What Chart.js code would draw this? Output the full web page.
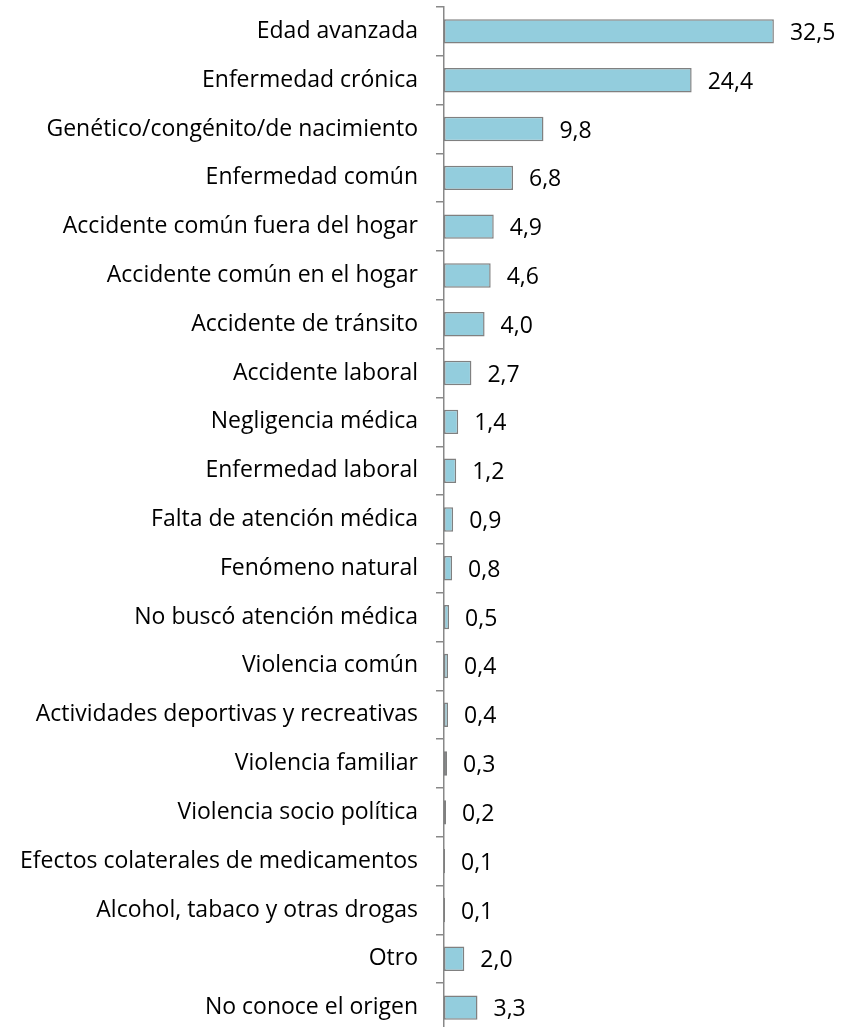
<!DOCTYPE html>
<html>
<head>
<meta charset="utf-8">
<script src="https://cdn.jsdelivr.net/npm/chart.js@4/dist/chart.umd.min.js"></script>
<style>
  html, body { margin:0; padding:0; background:#fff; overflow:hidden; }
  #wrap { width:855px; height:1040px; }
</style>
</head>
<body>
<div id="wrap"><canvas id="chart" width="855" height="1040"></canvas></div>
<script>
const categories = [
  'Edad avanzada',
  'Enfermedad crónica',
  'Genético/congénito/de nacimiento',
  'Enfermedad común',
  'Accidente común fuera del hogar',
  'Accidente común en el hogar',
  'Accidente de tránsito',
  'Accidente laboral',
  'Negligencia médica',
  'Enfermedad laboral',
  'Falta de atención médica',
  'Fenómeno natural',
  'No buscó atención médica',
  'Violencia común',
  'Actividades deportivas y recreativas',
  'Violencia familiar',
  'Violencia socio política',
  'Efectos colaterales de medicamentos',
  'Alcohol, tabaco y otras drogas',
  'Otro',
  'No conoce el origen'
];
const values = [32.5, 24.4, 9.8, 6.8, 4.9, 4.6, 4.0, 2.7, 1.4, 1.2, 0.9, 0.8, 0.5, 0.4, 0.4, 0.3, 0.2, 0.1, 0.1, 2.0, 3.3];

const fmt = v => v.toFixed(1).replace('.', ',');

// etiquetas de valor a la derecha de cada barra
const valueLabels = {
  id: 'valueLabels',
  afterDatasetsDraw(c){
    const ctx = c.ctx;
    const meta = c.getDatasetMeta(0);
    ctx.save();
    ctx.font = '23px "Open Sans"';
    ctx.fillStyle = '#000';
    ctx.textBaseline = 'middle';
    ctx.textAlign = 'left';
    meta.data.forEach((bar, i) => {
      ctx.fillText(fmt(values[i]), bar.x + 16, bar.y + 2);
    });
    ctx.restore();
  }
};

new Chart(document.getElementById('chart'), {
  type:'bar',
  data:{
    labels: categories,
    datasets:[{
      data: values,
      backgroundColor:'#93CDDD',
      borderColor:'#808080',
      borderWidth:1.5,
      borderSkipped:false,
      categoryPercentage:1,
      barPercentage:0.5
    }]
  },
  options:{
    indexAxis:'y',
    responsive:false,
    animation:false,
    layout:{ padding:{ top:7, bottom:8, right:5, left:0 } },
    plugins:{ legend:{ display:false }, tooltip:{ enabled:false } },
    scales:{
      x:{ display:false, min:0, max:40 },
      y:{
        afterFit(s){ s.width = 444; s.paddingTop = 0; s.paddingBottom = 0; },
        border:{ display:true, color:'#888', width:1.5 },
        grid:{ offset:true, drawOnChartArea:false, drawTicks:true, tickLength:8, color:'#888', lineWidth:1.5 },
        ticks:{ color:'#000', font:{ family:'Open Sans', size:23 }, padding:18, autoSkip:false }
      }
    }
  },
  plugins:[valueLabels]
});
</script>
</body>
</html>
